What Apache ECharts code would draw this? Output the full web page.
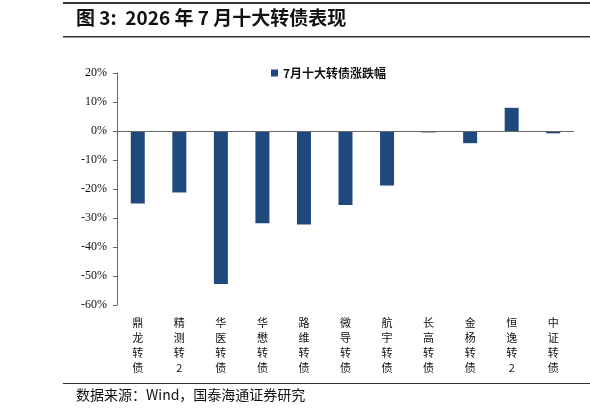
<!DOCTYPE html>
<html><head><meta charset="utf-8">
<script src="https://cdn.jsdelivr.net/npm/echarts@6/dist/echarts.min.js"></script>
<style>html,body{margin:0;padding:0;background:#fff}#c{width:590px;height:417px}</style>
</head><body><div id="c"></div>
<script>
var categories = ['鼎龙转债', '精测转2', '华医转债', '华懋转债', '路维转债', '微导转债', '航宇转债', '长高转债', '金杨转债', '恒逸转2', '中证转债'];
var changes = [-25.0, -21.2, -52.8, -31.8, -32.2, -25.5, -18.8, -0.5, -4.2, 8.0, -0.8];
var seriesName = '7月十大转债涨跌幅';

var chart = echarts.init(document.getElementById('c'), null, { renderer: 'canvas' });
var cjk = '"Noto Sans CJK SC", sans-serif';
var serif = '"Liberation Serif", "DejaVu Serif", serif';

chart.setOption({
  animation: false,
  graphic: [
    { type: 'rect', shape: { x: 63, y: 2, width: 527, height: 2 }, style: { fill: '#333' } },
    { type: 'text', left: 76, top: 8, style: { text: '图 3:  2026 年 7 月十大转债表现', font: 'bold 19px ' + cjk, fill: '#111' } },
    { type: 'rect', shape: { x: 63, y: 36, width: 527, height: 1.5 }, style: { fill: '#333' } },
    { type: 'rect', shape: { x: 63, y: 383, width: 527, height: 1 }, style: { fill: '#333' } },
    { type: 'text', left: 76, top: 388, style: { text: '数据来源：Wind，国泰海通证券研究', font: '14px ' + cjk, fill: '#111' } }
  ],
  legend: {
    top: 62, left: 266, itemWidth: 7, itemHeight: 7, icon: 'rect',
    textStyle: { fontFamily: cjk, fontWeight: 'bold', fontSize: 12, color: '#111' },
    data: [seriesName]
  },
  grid: { left: 117, right: 16, top: 73, bottom: 112 },
  xAxis: {
    type: 'category', data: categories, position: 'bottom',
    axisLine: { show: false }, axisTick: { show: false },
    axisLabel: {
      interval: 0, fontFamily: cjk, fontSize: 11, color: '#111', lineHeight: 15, margin: 10,
      formatter: function (v) { return v.split('').join('\n'); }
    }
  },
  yAxis: {
    type: 'value', min: -60, max: 20, interval: 10,
    axisLine: { show: true, lineStyle: { color: '#666' } },
    axisTick: { show: true, inside: false, length: 4, lineStyle: { color: '#666' } },
    splitLine: { show: false },
    axisLabel: { formatter: '{value}%', fontFamily: serif, fontSize: 12, color: '#111', margin: 10 }
  },
  series: [{
    name: seriesName, type: 'bar', data: changes, barWidth: 14,
    itemStyle: { color: '#1f497d' },
    markLine: {
      silent: true, symbol: 'none', label: { show: false },
      lineStyle: { color: '#666', type: 'solid', width: 1 },
      data: [{ yAxis: 0 }]
    }
  }]
});
</script></body></html>
